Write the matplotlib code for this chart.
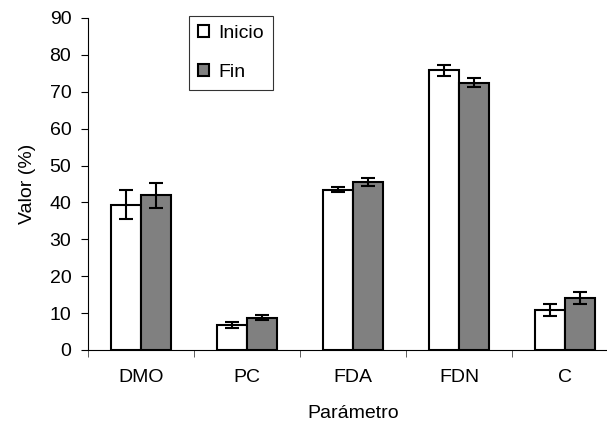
import matplotlib.pyplot as plt
import numpy as np

# Datos
parametros = ['DMO', 'PC', 'FDA', 'FDN', 'C']
inicio = [39.4, 6.7, 43.5, 75.8, 10.8]
inicio_err = [3.9, 0.8, 0.8, 1.5, 1.6]
fin = [41.9, 8.8, 45.6, 72.5, 14.0]
fin_err = [3.5, 0.8, 1.1, 1.1, 1.6]

plt.rcParams['font.family'] = ['Liberation Sans', 'DejaVu Sans']
plt.rcParams['font.size'] = 14

fig = plt.figure(figsize=(6.07, 4.3), dpi=100)
# el eje X sigue más allá del borde derecho, como en el original
ax = fig.add_axes([88 / 607, 80 / 430, 530 / 607, 332 / 430])

x = np.arange(len(parametros))
w = 0.287
err_kw = dict(ecolor='black', elinewidth=1.5, capsize=5.3, capthick=1.5)
ax.bar(x - w / 2, inicio, w, yerr=inicio_err, color='white', edgecolor='black',
       linewidth=1.5, label='Inicio', error_kw=err_kw)
ax.bar(x + w / 2, fin, w, yerr=fin_err, color='#808080', edgecolor='black',
       linewidth=1.5, label='Fin', error_kw=err_kw)

ax.set_xlim(-0.5, 4.5)
ax.set_ylim(0, 90)
ax.set_yticks(range(0, 91, 10))
ax.set_xticks(x)
ax.set_xticklabels(parametros)
ax.set_xticks(np.arange(-0.5, 5, 1), minor=True)
ax.tick_params(axis='x', which='major', length=0, pad=14)
ax.tick_params(axis='x', which='minor', length=5, direction='out', color='#444444')
ax.tick_params(axis='y', length=5, direction='out', pad=7)

for s in ['top', 'right']:
    ax.spines[s].set_visible(False)
ax.spines['left'].set_linewidth(0.8)
ax.spines['bottom'].set_linewidth(0.8)

ax.set_xlabel('Parámetro', labelpad=13)
ax.set_ylabel('Valor (%)', labelpad=10)

leg = ax.legend(loc='upper left', bbox_to_anchor=(189 / 607, 1 - 16 / 430),
                bbox_transform=fig.transFigure, borderaxespad=0, frameon=True,
                fancybox=False, edgecolor='black', handlelength=0.6, handleheight=0.6,
                handletextpad=0.45, labelspacing=1.15, borderpad=0.45, fontsize=14)
leg.get_frame().set_linewidth(0.8)

fig.savefig('out.png', dpi=100)
